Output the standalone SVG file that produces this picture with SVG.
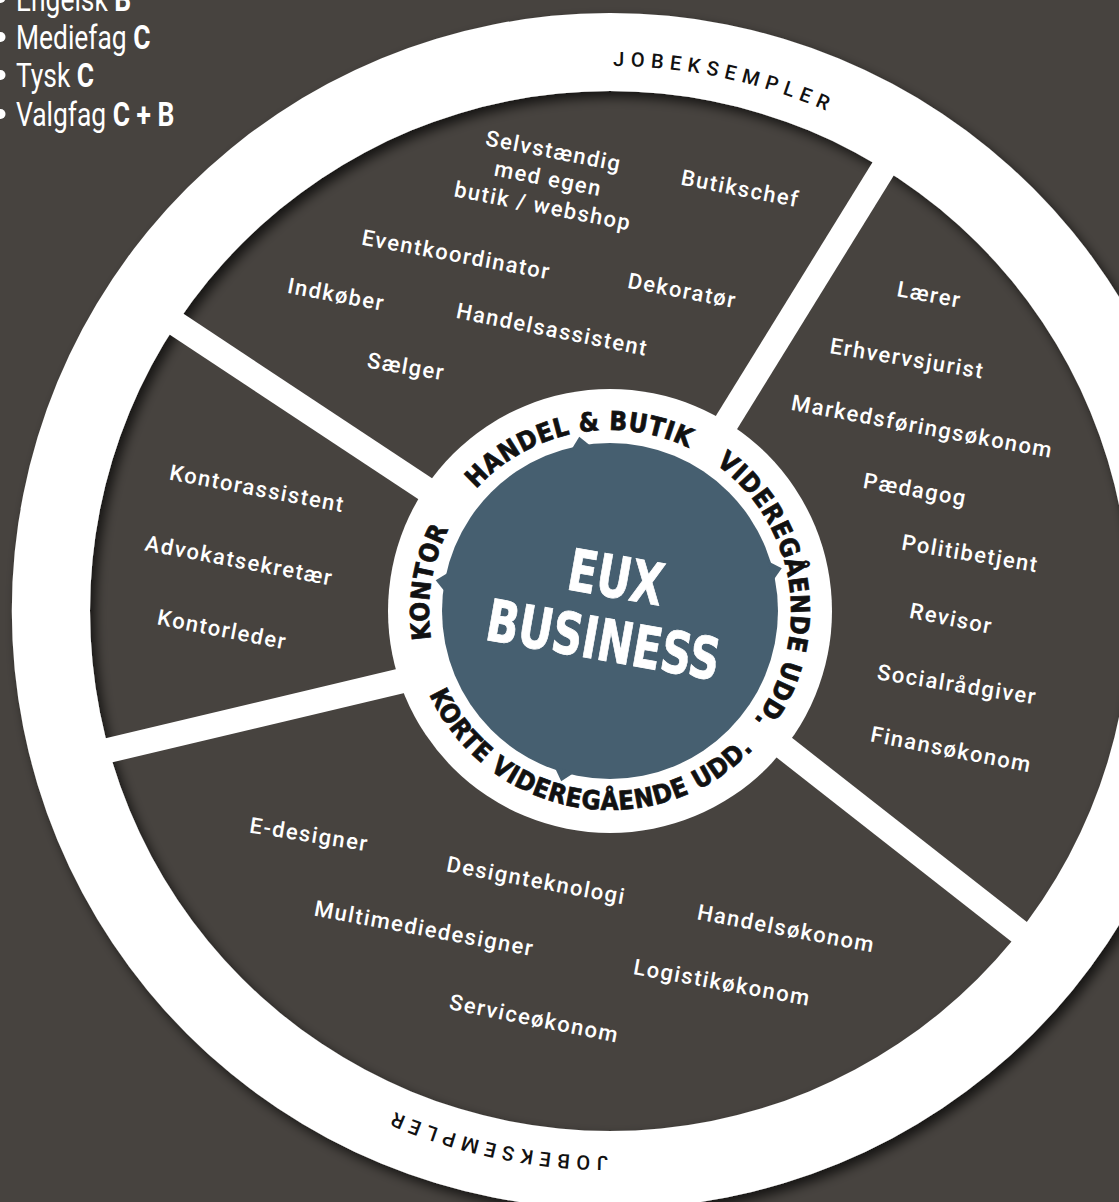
<svg xmlns="http://www.w3.org/2000/svg" xmlns:xlink="http://www.w3.org/1999/xlink" width="1119" height="1202" viewBox="0 0 1119 1202">
<style>
.bg{fill:#47433f}
.white{fill:#ffffff}
.spoke{stroke:#ffffff;stroke-width:25;fill:none}
.job{font-family:Roboto,"Liberation Sans",sans-serif;font-weight:500;font-size:22px;letter-spacing:1.5px;fill:#ffffff;text-anchor:middle}
.hub{font-family:"DejaVu Sans Condensed","DejaVu Sans",sans-serif;font-stretch:condensed;font-weight:bold;font-size:26px;letter-spacing:0.6px;fill:#111111;stroke:#111111;stroke-width:0.7px}
.ring{font-family:Roboto,"Liberation Sans",sans-serif;font-weight:500;font-size:20px;letter-spacing:6.3px;fill:#111111}
.center{font-family:"DejaVu Sans Condensed","DejaVu Sans",sans-serif;font-stretch:condensed;font-weight:bold;font-size:58px;fill:#ffffff;stroke:#ffffff;stroke-width:0.8px;text-anchor:middle}
.legend{font-family:Roboto,"Liberation Sans",sans-serif;font-size:33px;fill:#ffffff}
.b{font-weight:bold}
</style>
<defs>
<filter id="shadow" x="-10%" y="-10%" width="120%" height="120%">
<feGaussianBlur in="SourceAlpha" stdDeviation="6"/>
<feOffset dx="5" dy="6" result="o"/>
<feFlood flood-color="#000000" flood-opacity="0.7"/>
<feComposite in2="o" operator="in"/>
<feMerge><feMergeNode/><feMergeNode in="SourceGraphic"/></feMerge>
</filter>
<path id="hubCW" d="M 610 792 A 181 181 0 1 1 610 430 A 181 181 0 1 1 610 792"/>
<path id="hubCCW" d="M 610 412 A 199 199 0 1 0 610 810 A 199 199 0 1 0 610 412"/>
<path id="ringCW" d="M 610 66 A 545 545 0 1 1 610 1156 A 545 545 0 1 1 610 66"/>
<polygon id="notch" points="775,600.5 787,611 775,621.5" fill="#465f70"/>
</defs>
<rect class="bg" x="0" y="0" width="1119" height="1202"/>

<g id="legend" class="legend">
<circle cx="0.5" cy="-2" r="5" fill="#fff"/>
<circle cx="0.5" cy="37" r="5" fill="#fff"/>
<circle cx="0.5" cy="75" r="5" fill="#fff"/>
<circle cx="0.5" cy="114" r="5" fill="#fff"/>
<g transform="scale(0.8 1)">
<text x="20" y="10.5">Engelsk <tspan class="b">B</tspan></text>
<text x="20" y="49">Mediefag <tspan class="b">C</tspan></text>
<text x="20" y="87">Tysk <tspan class="b">C</tspan></text>
<text x="20" y="126">Valgfag <tspan class="b">C + B</tspan></text>
</g>
</g>

<g id="outer-ring">
<path class="white" filter="url(#shadow)" fill-rule="evenodd" d="M 610 13 A 598 598 0 1 1 610 1209 A 598 598 0 1 1 610 13 Z M 610 91 A 520 520 0 1 0 610 1131 A 520 520 0 1 0 610 91 Z"/>
<text class="ring"><textPath xlink:href="#ringCW" startOffset="3">JOBEKSEMPLER</textPath></text>
<text class="ring"><textPath xlink:href="#ringCW" startOffset="1714">JOBEKSEMPLER</textPath></text>
</g>

<g id="connectors">
<line class="spoke" x1="610" y1="611" x2="893.8" y2="151.6"/>
<line class="spoke" x1="610" y1="611" x2="159.7" y2="313"/>
<line class="spoke" x1="430" y1="674" x2="89.5" y2="754.9"/>
<line class="spoke" x1="610" y1="611" x2="1034.9" y2="944.2"/>
</g>

<g id="hub">
<circle class="white" cx="610" cy="611" r="222"/>
<text class="hub" text-anchor="middle"><textPath xlink:href="#hubCW" startOffset="312.8">KONTOR</textPath></text>
<text class="hub" text-anchor="middle"><textPath xlink:href="#hubCW" startOffset="533.9">HANDEL &amp; BUTIK</textPath></text>
<text class="hub" text-anchor="middle"><textPath xlink:href="#hubCW" startOffset="826">VIDEREGÅENDE UDD.</textPath></text>
<text class="hub" text-anchor="middle"><textPath xlink:href="#hubCCW" startOffset="592">KORTE VIDEREGÅENDE UDD.</textPath></text>
</g>

<g id="eux-business">
<circle cx="610" cy="611" r="168" fill="#465f70"/>
<use xlink:href="#notch" transform="rotate(-100 610 611)"/>
<use xlink:href="#notch" transform="rotate(190 610 611)"/>
<use xlink:href="#notch" transform="rotate(-14 610 611)"/>
<use xlink:href="#notch" transform="rotate(106 610 611)"/>
<g transform="rotate(10 610 611)">
<text class="center" x="610" y="597" textLength="96" lengthAdjust="spacingAndGlyphs">EUX</text>
<text class="center" x="608.5" y="661" textLength="236" lengthAdjust="spacingAndGlyphs">BUSINESS</text>
</g>
</g>

<g id="sector-handel">
<text class="job" transform="rotate(11 548 180)"><tspan x="548" y="158">Selvstændig</tspan><tspan x="548" y="186">med egen</tspan><tspan x="548" y="214">butik / webshop</tspan></text>
<text class="job" transform="rotate(11 740 190)" x="740" y="196">Butikschef</text>
<text class="job" transform="rotate(10.5 456 256)" x="456" y="262">Eventkoordinator</text>
<text class="job" transform="rotate(10.7 682 292)" x="682" y="298">Dekoratør</text>
<text class="job" transform="rotate(10.7 336 296)" x="336" y="302">Indkøber</text>
<text class="job" transform="rotate(11.3 552 331)" x="552" y="337">Handelsassistent</text>
<text class="job" transform="rotate(9.5 406 368)" x="406" y="374">Sælger</text>
</g>

<g id="sector-videregaaende">
<text class="job" transform="rotate(10.5 929 296)" x="929" y="302">Lærer</text>
<text class="job" transform="rotate(9.5 907 360)" x="907" y="366">Erhvervsjurist</text>
<text class="job" transform="rotate(10.5 922 428)" x="922" y="434">Markedsføringsøkonom</text>
<text class="job" transform="rotate(10 915 491)" x="915" y="497">Pædagog</text>
<text class="job" transform="rotate(9.5 970 555)" x="970" y="561">Politibetjent</text>
<text class="job" transform="rotate(11 951 620)" x="951" y="626">Revisor</text>
<text class="job" transform="rotate(9 957 686)" x="957" y="692">Socialrådgiver</text>
<text class="job" transform="rotate(11 951 751)" x="951" y="757">Finansøkonom</text>
</g>

<g id="sector-kontor">
<text class="job" transform="rotate(10.7 257 490)" x="257" y="496">Kontorassistent</text>
<text class="job" transform="rotate(10.7 239 562)" x="239" y="568">Advokatsekretær</text>
<text class="job" transform="rotate(11 222 631)" x="222" y="637">Kontorleder</text>
</g>

<g id="sector-korte">
<text class="job" transform="rotate(9 309 836)" x="309" y="842">E-designer</text>
<text class="job" transform="rotate(10.5 536 882)" x="536" y="888">Designteknologi</text>
<text class="job" transform="rotate(10.5 424 930)" x="424" y="936">Multimediedesigner</text>
<text class="job" transform="rotate(10.7 786 930)" x="786" y="936">Handelsøkonom</text>
<text class="job" transform="rotate(10.2 722 984)" x="722" y="990">Logistikøkonom</text>
<text class="job" transform="rotate(11.2 534 1020)" x="534" y="1026">Serviceøkonom</text>
</g>
</svg>
